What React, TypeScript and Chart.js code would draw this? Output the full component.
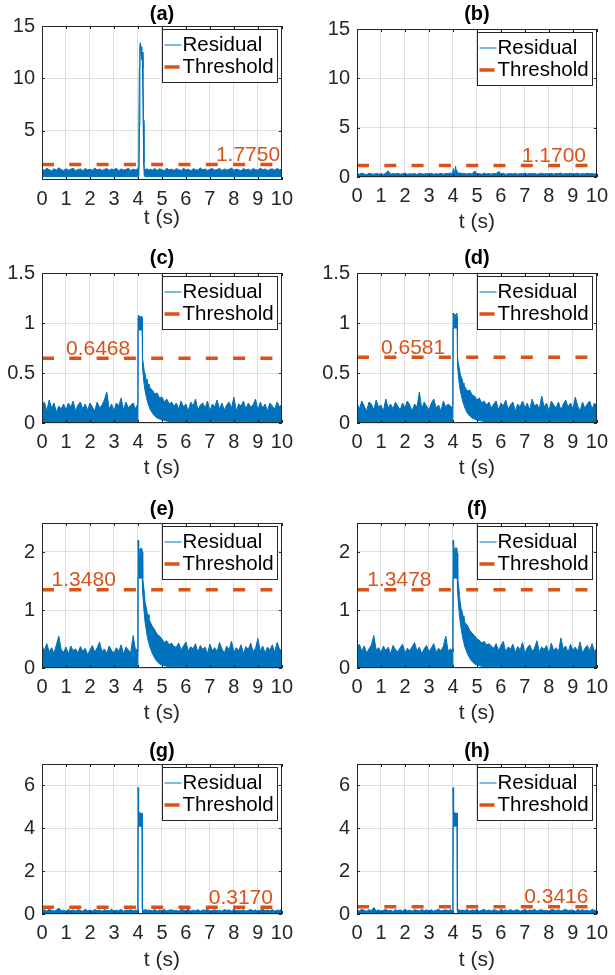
import React, { useEffect, useRef } from "react";
import { Chart, registerables } from "chart.js";

Chart.register(...registerables);

// ---------------- data ----------------
const X_TICKS = [0, 1, 2, 3, 4, 5, 6, 7, 8, 9, 10];
const X_MIN = 0;
const X_MAX = 10;
const SAMPLE_DT = 0.1; // spacing of the typed noise-envelope samples (s)
const POST_START = 4.5; // first time of the "post" arrays (s)
const SERIES_LABELS = ["Residual", "Threshold"];
const X_LABEL = "t (s)";
const TITLES = ["(a)", "(b)", "(c)", "(d)", "(e)", "(f)", "(g)", "(h)"];
const THRESHOLDS = [1.775, 1.17, 0.6468, 0.6581, 1.348, 1.3478, 0.317, 0.3416];
const THRESHOLD_TEXT_T = [7.25, 6.87, 1.0, 1.0, 0.4, 0.43, 6.95, 6.97];
const Y_LIMITS = [
  [0.3, 15], [0, 15], [0, 1.5], [0, 1.5], [0, 2.5], [0, 2.5], [0, 7], [0, 7],
];
const Y_TICKS = [
  [5, 10, 15], [0, 5, 10, 15], [0, 0.5, 1, 1.5], [0, 0.5, 1, 1.5],
  [0, 1, 2], [0, 1, 2], [0, 2, 4, 6], [0, 2, 4, 6],
];

// Residual upper envelope: PRE = 0.0..3.9 s, FAULT = [t, y] pairs, POST = 4.5..10.0 s
// Residual lower envelope: LOW = [t, y] pairs
const A_PRE = [
  1.35, 1.22, 1.41, 1.28, 1.19, 1.38, 1.25, 1.46, 1.3, 1.2,
  1.37, 1.24, 1.33, 1.42, 1.21, 1.29, 1.36, 1.18, 1.4, 1.27,
  1.32, 1.23, 1.44, 1.26, 1.35, 1.2, 1.31, 1.39, 1.22, 1.34,
  1.28, 1.43, 1.19, 1.36, 1.25, 1.3, 1.41, 1.21, 1.33, 1.27,
];
const A_FAULT = [
  [3.95, 1.3], [3.99, 1.35], [4.02, 1.6], [4.04, 6.0], [4.06, 11.0], [4.08, 13.2],
  [4.1, 13.4], [4.13, 13.0], [4.16, 12.3], [4.19, 12.5], [4.21, 11.0], [4.23, 6.0],
  [4.25, 2.0], [4.27, 1.4], [4.32, 1.3], [4.38, 1.38], [4.44, 1.25],
];
const A_POST = [
  1.32, 1.24, 1.4, 1.21, 1.36, 1.28, 1.19, 1.43, 1.26, 1.33,
  1.22, 1.38, 1.29, 1.2, 1.41, 1.25, 1.34, 1.18, 1.37, 1.3,
  1.23, 1.45, 1.27, 1.35, 1.21, 1.32, 1.39, 1.24, 1.29, 1.42,
  1.2, 1.36, 1.26, 1.31, 1.44, 1.22, 1.34, 1.28, 1.19, 1.4,
  1.25, 1.33, 1.21, 1.38, 1.3, 1.23, 1.43, 1.27, 1.35, 1.2,
  1.31, 1.37, 1.24, 1.4, 1.28, 1.33,
];
const A_LOW = [
  [0, 0.62], [4.0, 0.62], [4.04, 0.65], [4.06, 5.5], [4.08, 11.8], [4.1, 12.9],
  [4.13, 12.5], [4.16, 11.8], [4.18, 11.9], [4.2, 10.0], [4.22, 5.5], [4.24, 1.8],
  [4.26, 0.7], [4.3, 0.62], [10, 0.62],
];

const B_PRE = [
  0.35, 0.28, 0.4, 0.3, 0.25, 0.38, 0.32, 0.27, 0.36, 0.3,
  0.33, 0.26, 0.39, 0.62, 0.29, 0.35, 0.31, 0.37, 0.28, 0.34,
  0.4, 0.27, 0.33, 0.3, 0.36, 0.25, 0.38, 0.32, 0.29, 0.35,
  0.31, 0.39, 0.27, 0.34, 0.3, 0.37, 0.28, 0.36, 0.33, 0.4,
];
const B_FAULT = [
  [3.95, 0.35], [3.99, 0.5], [4.02, 0.85], [4.05, 0.45], [4.08, 0.6], [4.11, 1.1],
  [4.13, 0.7], [4.16, 0.55], [4.2, 0.45], [4.26, 0.38], [4.32, 0.42], [4.38, 0.33],
  [4.44, 0.37],
];
const B_POST = [
  0.34, 0.3, 0.38, 0.28, 0.62, 0.33, 0.36, 0.27, 0.4, 0.31,
  0.35, 0.29, 0.37, 0.32, 0.58, 0.3, 0.39, 0.26, 0.34, 0.36,
  0.31, 0.38, 0.28, 0.35, 0.33, 0.4, 0.29, 0.36, 0.32, 0.37,
  0.27, 0.34, 0.39, 0.3, 0.35, 0.31, 0.38, 0.28, 0.36, 0.33,
  0.4, 0.29, 0.35, 0.32, 0.37, 0.3, 0.34, 0.39, 0.28, 0.36,
  0.31, 0.38, 0.33, 0.35, 0.3, 0.37,
];
const B_LOW = [[0, 0.02], [10, 0.02]];

const C_PRE = [
  0.18, 0.21, 0.12, 0.23, 0.15, 0.2, 0.11, 0.17, 0.14, 0.19,
  0.13, 0.2, 0.16, 0.22, 0.12, 0.18, 0.21, 0.14, 0.19, 0.13,
  0.2, 0.16, 0.12, 0.21, 0.15, 0.18, 0.23, 0.31, 0.14, 0.19,
  0.12, 0.2, 0.17, 0.25, 0.13, 0.21, 0.15, 0.18, 0.2, 0.14,
];
const C_FAULT = [
  [3.95, 0.17], [3.99, 0.19], [4.0, 0.2], [4.005, 1.05], [4.02, 1.08], [4.04, 1.01],
  [4.06, 1.07], [4.08, 1.0], [4.1, 1.06], [4.12, 1.02], [4.14, 1.07], [4.16, 1.0],
  [4.18, 1.05], [4.19, 0.64], [4.22, 0.6], [4.26, 0.52], [4.3, 0.49], [4.34, 0.43],
  [4.38, 0.44], [4.42, 0.38], [4.46, 0.39],
];
const C_POST = [
  0.35, 0.33, 0.29, 0.3, 0.25, 0.26, 0.21, 0.24, 0.19, 0.21,
  0.17, 0.2, 0.14, 0.22, 0.16, 0.19, 0.12, 0.21, 0.17, 0.24,
  0.13, 0.18, 0.2, 0.15, 0.22, 0.12, 0.19, 0.16, 0.23, 0.14,
  0.2, 0.13, 0.18, 0.21, 0.15, 0.26, 0.12, 0.19, 0.17, 0.22,
  0.14, 0.2, 0.16, 0.18, 0.24, 0.13, 0.21, 0.15, 0.19, 0.12,
  0.2, 0.17, 0.14, 0.21, 0.16, 0.19,
];
const C_LOW = [
  [0, 0.01], [4.0, 0.01], [4.005, 0.93], [4.18, 0.93], [4.19, 0.55], [4.25, 0.4],
  [4.3, 0.32], [4.4, 0.21], [4.5, 0.14], [4.6, 0.1], [4.7, 0.07], [4.8, 0.05],
  [5.0, 0.03], [5.3, 0.015], [10, 0.01],
];

const D_PRE = [
  0.2, 0.14, 0.22, 0.17, 0.12, 0.21, 0.19, 0.13, 0.23, 0.16,
  0.18, 0.12, 0.24, 0.15, 0.19, 0.14, 0.21, 0.17, 0.13, 0.2,
  0.15, 0.22, 0.18, 0.12, 0.19, 0.16, 0.31, 0.14, 0.21, 0.17,
  0.13, 0.2, 0.24, 0.15, 0.18, 0.12, 0.22, 0.16, 0.19, 0.17,
];
const D_FAULT = [
  [3.95, 0.15], [3.99, 0.18], [4.0, 0.19], [4.005, 1.1], [4.02, 1.06], [4.04, 1.1],
  [4.06, 1.03], [4.08, 1.09], [4.1, 1.02], [4.12, 1.08], [4.14, 1.04], [4.16, 1.1],
  [4.18, 1.05], [4.19, 0.66], [4.22, 0.6], [4.26, 0.55], [4.3, 0.5], [4.34, 0.46],
  [4.38, 0.44], [4.42, 0.4], [4.46, 0.37],
];
const D_POST = [
  0.36, 0.32, 0.33, 0.28, 0.27, 0.23, 0.25, 0.2, 0.22, 0.18,
  0.21, 0.15, 0.19, 0.22, 0.13, 0.2, 0.17, 0.23, 0.14, 0.18,
  0.21, 0.12, 0.19, 0.16, 0.22, 0.15, 0.2, 0.13, 0.24, 0.17,
  0.19, 0.14, 0.27, 0.16, 0.2, 0.12, 0.22, 0.18, 0.15, 0.21,
  0.13, 0.19, 0.23, 0.16, 0.2, 0.14, 0.26, 0.17, 0.12, 0.21,
  0.15, 0.19, 0.22, 0.14, 0.2, 0.17,
];
const D_LOW = [
  [0, 0.01], [4.0, 0.01], [4.005, 0.95], [4.18, 0.95], [4.19, 0.57], [4.25, 0.42],
  [4.3, 0.33], [4.4, 0.22], [4.5, 0.15], [4.6, 0.1], [4.7, 0.07], [4.8, 0.05],
  [5.0, 0.03], [5.3, 0.015], [10, 0.01],
];

const E_PRE = [
  0.38, 0.3, 0.42, 0.28, 0.35, 0.25, 0.4, 0.55, 0.32, 0.27,
  0.36, 0.24, 0.38, 0.3, 0.33, 0.26, 0.37, 0.29, 0.34, 0.23,
  0.31, 0.39, 0.27, 0.35, 0.45, 0.28, 0.33, 0.25, 0.38, 0.3,
  0.26, 0.35, 0.29, 0.4, 0.24, 0.36, 0.31, 0.27, 0.56, 0.3,
];
const E_FAULT = [
  [3.95, 0.33], [3.99, 0.28], [4.0, 0.3], [4.005, 2.2], [4.02, 1.95], [4.04, 2.08],
  [4.06, 1.9], [4.08, 2.05], [4.1, 1.93], [4.12, 2.07], [4.14, 1.92], [4.16, 2.06],
  [4.18, 2.0], [4.19, 1.62], [4.21, 1.55], [4.24, 1.4], [4.27, 1.28], [4.3, 1.12],
  [4.34, 1.06], [4.38, 0.95], [4.42, 0.92], [4.46, 0.86],
];
const E_POST = [
  0.8, 0.72, 0.66, 0.58, 0.55, 0.5, 0.44, 0.47, 0.4, 0.43,
  0.37, 0.36, 0.43, 0.31, 0.38, 0.45, 0.29, 0.37, 0.33, 0.42,
  0.27, 0.39, 0.32, 0.36, 0.25, 0.41, 0.3, 0.35, 0.28, 0.44,
  0.33, 0.26, 0.38, 0.31, 0.46, 0.27, 0.35, 0.3, 0.4, 0.25,
  0.37, 0.32, 0.43, 0.28, 0.34, 0.51, 0.29, 0.38, 0.26, 0.36,
  0.31, 0.4, 0.27, 0.44, 0.33, 0.29,
];
const E_LOW = [
  [0, 0.01], [4.0, 0.01], [4.005, 1.55], [4.18, 1.55], [4.19, 1.35], [4.25, 1.0],
  [4.3, 0.78], [4.4, 0.52], [4.5, 0.36], [4.6, 0.25], [4.7, 0.17], [4.8, 0.11],
  [4.9, 0.07], [5.0, 0.05], [5.3, 0.02], [10, 0.01],
];

const F_PRE = [
  0.36, 0.41, 0.29, 0.38, 0.26, 0.33, 0.4, 0.56, 0.31, 0.35,
  0.27, 0.38, 0.3, 0.36, 0.24, 0.39, 0.32, 0.28, 0.35, 0.41,
  0.26, 0.34, 0.3, 0.37, 0.44, 0.29, 0.36, 0.25, 0.33, 0.39,
  0.28, 0.35, 0.42, 0.27, 0.34, 0.3, 0.37, 0.55, 0.29, 0.33,
];
const F_FAULT = [
  [3.95, 0.3], [3.99, 0.34], [4.0, 0.28], [4.005, 2.2], [4.02, 2.0], [4.04, 2.1],
  [4.06, 1.92], [4.08, 2.06], [4.1, 1.95], [4.12, 2.08], [4.14, 1.9], [4.16, 2.07],
  [4.18, 1.98], [4.19, 1.6], [4.21, 1.52], [4.24, 1.42], [4.27, 1.25], [4.3, 1.15],
  [4.34, 1.02], [4.38, 0.98], [4.42, 0.9], [4.46, 0.87],
];
const F_POST = [
  0.78, 0.74, 0.65, 0.6, 0.56, 0.5, 0.48, 0.43, 0.46, 0.4,
  0.42, 0.38, 0.34, 0.42, 0.3, 0.39, 0.46, 0.28, 0.36, 0.33,
  0.41, 0.27, 0.37, 0.31, 0.44, 0.26, 0.35, 0.4, 0.29, 0.34,
  0.47, 0.28, 0.36, 0.32, 0.39, 0.25, 0.43, 0.3, 0.35, 0.28,
  0.52, 0.33, 0.38, 0.27, 0.41, 0.31, 0.36, 0.29, 0.45, 0.26,
  0.34, 0.39, 0.3, 0.42, 0.28, 0.35,
];
const F_LOW = [
  [0, 0.01], [4.0, 0.01], [4.005, 1.55], [4.18, 1.55], [4.19, 1.33], [4.25, 1.0],
  [4.3, 0.8], [4.4, 0.53], [4.5, 0.36], [4.6, 0.25], [4.7, 0.17], [4.8, 0.11],
  [4.9, 0.07], [5.0, 0.05], [5.3, 0.02], [10, 0.01],
];

const G_PRE = [
  0.16, 0.2, 0.13, 0.22, 0.17, 0.14, 0.19, 0.28, 0.15, 0.18,
  0.12, 0.21, 0.16, 0.19, 0.14, 0.2, 0.17, 0.13, 0.22, 0.15,
  0.18, 0.14, 0.21, 0.16, 0.19, 0.13, 0.2, 0.17, 0.15, 0.22,
  0.14, 0.18, 0.16, 0.21, 0.13, 0.19, 0.17, 0.2, 0.15, 0.18,
];
const G_FAULT = [
  [3.95, 0.17], [3.99, 0.19], [4.0, 0.15], [4.005, 5.9], [4.02, 4.6], [4.035, 4.8],
  [4.05, 4.3], [4.07, 4.75], [4.09, 4.25], [4.11, 4.7], [4.13, 4.35], [4.15, 4.72],
  [4.17, 4.5], [4.18, 4.7], [4.19, 0.2], [4.25, 0.18], [4.32, 0.21], [4.4, 0.16],
  [4.46, 0.19],
];
const G_POST = [
  0.18, 0.15, 0.21, 0.13, 0.19, 0.16, 0.22, 0.14, 0.18, 0.2,
  0.15, 0.17, 0.13, 0.21, 0.19, 0.16, 0.23, 0.14, 0.18, 0.15,
  0.2, 0.13, 0.19, 0.17, 0.22, 0.14, 0.16, 0.2, 0.15, 0.18,
  0.13, 0.21, 0.17, 0.19, 0.14, 0.22, 0.16, 0.18, 0.15, 0.2,
  0.13, 0.17, 0.21, 0.15, 0.19, 0.14, 0.18, 0.22, 0.16, 0.19,
  0.15, 0.2, 0.14, 0.18, 0.17, 0.21,
];
const G_LOW = [
  [0, 0.01], [4.0, 0.01], [4.005, 4.1], [4.185, 4.1], [4.19, 0.01], [10, 0.01],
];

const H_PRE = [
  0.19, 0.14, 0.22, 0.17, 0.13, 0.2, 0.16, 0.3, 0.15, 0.19,
  0.13, 0.18, 0.21, 0.15, 0.17, 0.12, 0.2, 0.16, 0.19, 0.14,
  0.22, 0.15, 0.18, 0.13, 0.2, 0.17, 0.14, 0.21, 0.16, 0.19,
  0.15, 0.2, 0.13, 0.18, 0.22, 0.14, 0.17, 0.19, 0.16, 0.2,
];
const H_FAULT = [
  [3.95, 0.18], [3.99, 0.16], [4.0, 0.2], [4.005, 5.9], [4.02, 4.9], [4.035, 4.4],
  [4.05, 4.75], [4.07, 4.2], [4.09, 4.7], [4.11, 4.3], [4.13, 4.72], [4.15, 4.25],
  [4.17, 4.7], [4.18, 4.5], [4.19, 0.18], [4.25, 0.2], [4.32, 0.16], [4.4, 0.19],
  [4.46, 0.15],
];
const H_POST = [
  0.17, 0.2, 0.14, 0.19, 0.16, 0.22, 0.13, 0.18, 0.21, 0.15,
  0.19, 0.14, 0.2, 0.17, 0.13, 0.22, 0.16, 0.19, 0.15, 0.21,
  0.14, 0.18, 0.2, 0.13, 0.17, 0.21, 0.15, 0.19, 0.16, 0.22,
  0.14, 0.18, 0.2, 0.15, 0.17, 0.13, 0.21, 0.19, 0.16, 0.2,
  0.14, 0.18, 0.22, 0.15, 0.19, 0.17, 0.13, 0.21, 0.16, 0.2,
  0.15, 0.18, 0.14, 0.21, 0.17, 0.19,
];
const H_LOW = [
  [0, 0.01], [4.0, 0.01], [4.005, 4.1], [4.185, 4.1], [4.19, 0.01], [10, 0.01],
];

const PRE = [A_PRE, B_PRE, C_PRE, D_PRE, E_PRE, F_PRE, G_PRE, H_PRE];
const FAULT = [A_FAULT, B_FAULT, C_FAULT, D_FAULT, E_FAULT, F_FAULT, G_FAULT, H_FAULT];
const POST = [A_POST, B_POST, C_POST, D_POST, E_POST, F_POST, G_POST, H_POST];
const LOW = [A_LOW, B_LOW, C_LOW, D_LOW, E_LOW, F_LOW, G_LOW, H_LOW];

// ---------------- layout & style ----------------
const FONT = "'Liberation Sans', Arial, Helvetica, sans-serif";
const BLUE = "#0072BD";
const ORANGE = "#D95319";
const AXIS = "#262626";
const GRID = "#dfdfdf";
const Y_AXIS_W = 42;
const PAD_RIGHT = 13;
const TICK_LEN = 3;

// plot-area rectangles in page pixels
const LAYOUT = [
  { left: 42, right: 287, top: 26, bottom: 180, titleGap: 12, xLabelGap: 38 },
  { left: 357, right: 602, top: 29, bottom: 177, titleGap: 15, xLabelGap: 45 },
  { left: 42, right: 287, top: 273, bottom: 423, titleGap: 15, xLabelGap: 45 },
  { left: 357, right: 602, top: 273, bottom: 423, titleGap: 15, xLabelGap: 45 },
  { left: 42, right: 287, top: 523, bottom: 668, titleGap: 14, xLabelGap: 45 },
  { left: 357, right: 602, top: 523, bottom: 668, titleGap: 14, xLabelGap: 45 },
  { left: 42, right: 287, top: 764, bottom: 914, titleGap: 13, xLabelGap: 46 },
  { left: 357, right: 602, top: 764, bottom: 914, titleGap: 13, xLabelGap: 46 },
];

Chart.defaults.font.family = FONT;

function makeDecor(idx: number) {
  return {
    id: "decor" + idx,
    afterDraw(chart: any) {
      const { ctx, chartArea: a, scales } = chart;
      const xs = scales.x;
      const ys = scales.y;
      const g = LAYOUT[idx];
      ctx.save();
      // inward tick marks
      ctx.strokeStyle = AXIS;
      ctx.lineWidth = 1;
      ctx.beginPath();
      for (const v of X_TICKS) {
        const px = Math.round(xs.getPixelForValue(v)) + 0.5;
        ctx.moveTo(px, a.bottom);
        ctx.lineTo(px, a.bottom - TICK_LEN);
        ctx.moveTo(px, a.top);
        ctx.lineTo(px, a.top + TICK_LEN);
      }
      for (const v of Y_TICKS[idx]) {
        const py = Math.round(ys.getPixelForValue(v)) + 0.5;
        ctx.moveTo(a.left, py);
        ctx.lineTo(a.left + TICK_LEN, py);
        ctx.moveTo(a.right, py);
        ctx.lineTo(a.right - TICK_LEN, py);
      }
      ctx.stroke();
      // axes box
      ctx.strokeRect(
        Math.round(a.left) + 0.5,
        Math.round(a.top) + 0.5,
        Math.round(a.right - a.left) - 1,
        Math.round(a.bottom - a.top) - 1
      );
      // threshold value label
      const thr = THRESHOLDS[idx];
      ctx.font = `21px ${FONT}`;
      ctx.fillStyle = ORANGE;
      ctx.textAlign = "left";
      ctx.textBaseline = "alphabetic";
      ctx.fillText(
        thr.toFixed(4),
        xs.getPixelForValue(THRESHOLD_TEXT_T[idx]),
        ys.getPixelForValue(thr) - 3.5
      );
      // title
      ctx.font = `bold 20px ${FONT}`;
      ctx.fillStyle = "#000";
      ctx.textAlign = "center";
      ctx.textBaseline = "middle";
      ctx.fillText(TITLES[idx], (a.left + a.right) / 2, a.top - g.titleGap);
      // legend
      const bw = 115;
      const bh = 53;
      const bx = Math.round(a.right - 5 - bw) + 0.5;
      const by = Math.round(a.top + 3) + 0.5;
      ctx.fillStyle = "#fff";
      ctx.fillRect(bx, by, bw, bh);
      ctx.strokeStyle = AXIS;
      ctx.lineWidth = 1;
      ctx.strokeRect(bx, by, bw, bh);
      const y1 = by + 15.5;
      const y2 = by + 37.5;
      ctx.strokeStyle = BLUE;
      ctx.lineWidth = 1;
      ctx.beginPath();
      ctx.moveTo(bx + 2, y1);
      ctx.lineTo(bx + 19, y1);
      ctx.stroke();
      ctx.strokeStyle = ORANGE;
      ctx.lineWidth = 3.5;
      ctx.beginPath();
      ctx.moveTo(bx + 2, y2);
      ctx.lineTo(bx + 17, y2);
      ctx.stroke();
      ctx.font = `20.5px ${FONT}`;
      ctx.fillStyle = "#000";
      ctx.textAlign = "left";
      ctx.textBaseline = "middle";
      ctx.fillText(SERIES_LABELS[0], bx + 20, y1 + 0.5);
      ctx.fillText(SERIES_LABELS[1], bx + 20, y2 + 0.5);
      ctx.restore();
    },
  };
}

function Panel({ idx }: { idx: number }) {
  const ref = useRef<HTMLCanvasElement | null>(null);
  const g = LAYOUT[idx];
  const padTop = Math.min(30, g.top);
  const xh = g.xLabelGap + 13;
  const width = Y_AXIS_W + (g.right - g.left) + PAD_RIGHT;
  const height = padTop + (g.bottom - g.top) + xh;
  const left = g.left - Y_AXIS_W;
  const top = g.top - padTop;

  useEffect(() => {
    const upper = [
      ...PRE[idx].map((y, i) => ({ x: i * SAMPLE_DT, y })),
      ...FAULT[idx].map(([x, y]) => ({ x, y })),
      ...POST[idx].map((y, i) => ({ x: POST_START + i * SAMPLE_DT, y })),
    ];
    const lower = LOW[idx].map(([x, y]) => ({ x, y }));
    const thr = THRESHOLDS[idx];
    const chart = new Chart(ref.current as HTMLCanvasElement, {
      type: "line",
      data: {
        datasets: [
          {
            label: SERIES_LABELS[0],
            data: upper,
            borderColor: BLUE,
            backgroundColor: BLUE,
            borderWidth: 1,
            pointRadius: 0,
            tension: 0,
            fill: 1,
          },
          {
            label: "",
            data: lower,
            borderColor: BLUE,
            backgroundColor: BLUE,
            borderWidth: 1,
            pointRadius: 0,
            tension: 0,
            fill: false,
          },
          {
            label: SERIES_LABELS[1],
            data: [
              { x: X_MIN, y: thr },
              { x: X_MAX, y: thr },
            ],
            borderColor: ORANGE,
            borderWidth: 3.5,
            borderDash: [12, 15.3],
            pointRadius: 0,
            fill: false,
            order: -1,
          },
        ],
      } as any,
      options: {
        animation: false,
        responsive: false,
        devicePixelRatio: 1,
        events: [],
        layout: { padding: { left: 0, right: PAD_RIGHT, top: padTop, bottom: 0 } },
        plugins: {
          legend: { display: false },
          tooltip: { enabled: false },
          title: { display: false },
        },
        scales: {
          x: {
            type: "linear",
            min: X_MIN,
            max: X_MAX,
            afterBuildTicks: (s: any) => {
              s.ticks = X_TICKS.map((v) => ({ value: v }));
            },
            afterFit: (s: any) => {
              s.height = xh;
            },
            ticks: {
              autoSkip: false,
              maxRotation: 0,
              minRotation: 0,
              padding: 7,
              color: AXIS,
              font: { size: 20 },
              callback: (v: any) => String(v),
            },
            grid: { color: GRID, drawTicks: false, lineWidth: 1 },
            border: { display: false },
            title: {
              display: true,
              text: X_LABEL,
              color: AXIS,
              font: { size: 21 },
              padding: 0,
            },
          },
          y: {
            type: "linear",
            min: Y_LIMITS[idx][0],
            max: Y_LIMITS[idx][1],
            afterBuildTicks: (s: any) => {
              s.ticks = Y_TICKS[idx].map((v) => ({ value: v }));
            },
            afterFit: (s: any) => {
              s.width = Y_AXIS_W;
            },
            ticks: {
              padding: 7,
              color: AXIS,
              font: { size: 20 },
              callback: (v: any) => String(v),
            },
            grid: { color: GRID, drawTicks: false, lineWidth: 1 },
            border: { display: false },
          },
        },
      } as any,
      plugins: [makeDecor(idx)],
    });
    return () => chart.destroy();
  }, [idx]);

  return (
    <canvas
      ref={ref}
      width={width}
      height={height}
      style={{ position: "absolute", left, top, width, height }}
    />
  );
}

export default function App() {
  return (
    <div
      style={{
        position: "absolute",
        left: 0,
        top: 0,
        width: 615,
        height: 975,
        background: "#fff",
        overflow: "hidden",
      }}
    >
      {TITLES.map((_, i) => (
        <Panel key={i} idx={i} />
      ))}
    </div>
  );
}
